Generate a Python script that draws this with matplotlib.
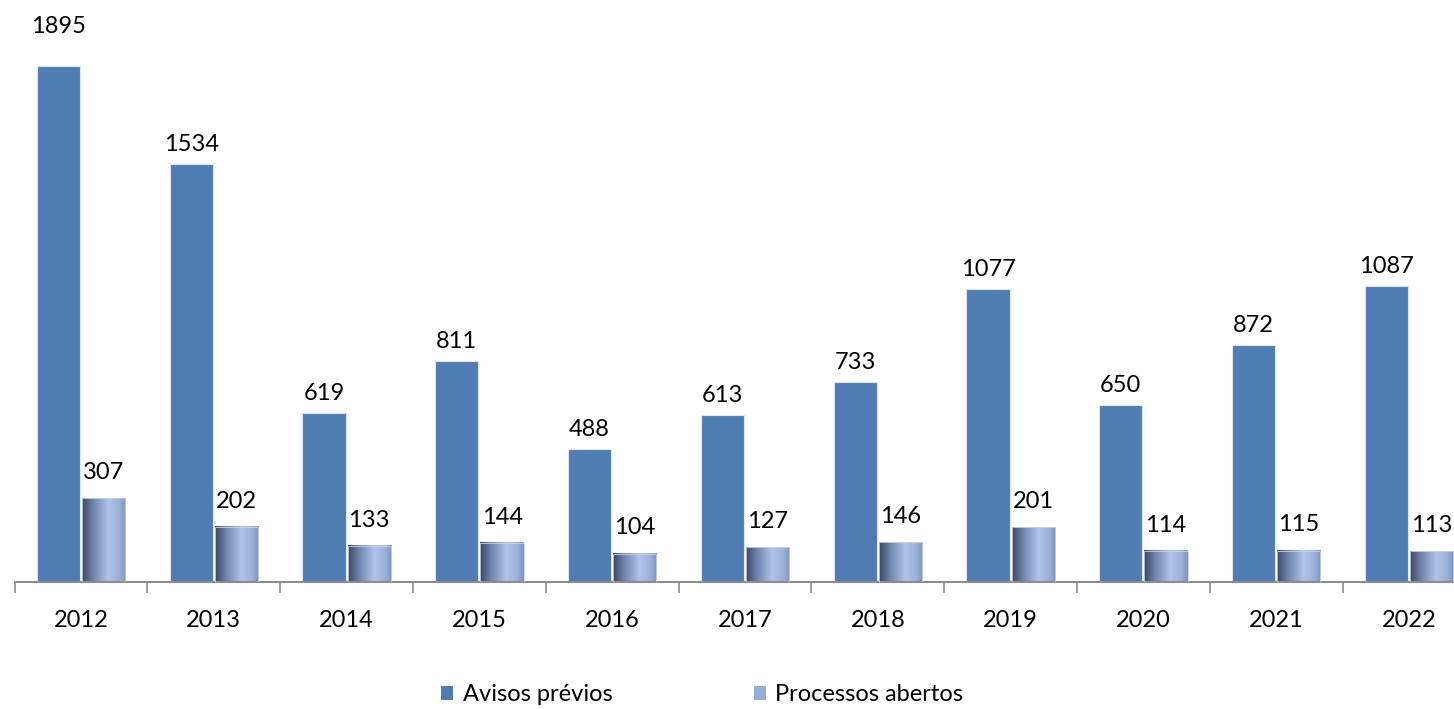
import matplotlib.pyplot as plt
import numpy as np
from matplotlib.colors import LinearSegmentedColormap
from matplotlib.patches import Patch

plt.rcParams["font.family"] = ["Lato", "DejaVu Sans"]

years = ["2012", "2013", "2014", "2015", "2016", "2017", "2018", "2019", "2020", "2021", "2022"]
avisos = [1895, 1534, 619, 811, 488, 613, 733, 1077, 650, 872, 1087]
processos = [307, 202, 133, 144, 104, 127, 146, 201, 114, 115, 113]

BLUE = "#4f7cb2"
LIGHT = "#95acd6"
grad_cmap = LinearSegmentedColormap.from_list(
    "bar_grad", [(0.0, "#3d4762"), (0.25, "#6f84ad"), (0.6, "#aec4ea"), (0.85, "#9bb1da"), (1.0, "#7f93b9")]
)

W, H, DPI = 1454, 709, 100
FS = 17
fig = plt.figure(figsize=(W / DPI, H / DPI), dpi=DPI)
left_px, bottom_px = 14.6, 582
ax = fig.add_axes([left_px / W, (H - bottom_px) / H, (W - left_px) / W, bottom_px / H])

cat_w = 132.8
x = np.arange(len(years))
xlim = (-0.5, -0.5 + (W - left_px) / cat_w)
ymax = 1895 * bottom_px / 516

bw = 0.325
gap = 0.008
grad = np.linspace(0, 1, 256).reshape(1, -1)
for i in x:
    ax.bar(i - gap - bw / 2, avisos[i], width=bw, color=BLUE, edgecolor="#dfe6f0", linewidth=0.8, zorder=2)
    x0 = i + gap
    ax.imshow(grad, cmap=grad_cmap, extent=(x0, x0 + bw, 0, processos[i]), aspect="auto", zorder=2,
              interpolation="bilinear")
    ax.add_patch(plt.Rectangle((x0, 0), bw, processos[i], fill=False, edgecolor="#c9d3e6", linewidth=0.6, zorder=3))
    off_a = 21 if avisos[i] == max(avisos) else 6.5
    ax.annotate(str(avisos[i]), (i - gap - bw / 2, avisos[i]), xytext=(0, off_a), textcoords="offset points",
                ha="center", va="bottom", fontsize=FS)
    ax.annotate(str(processos[i]), (x0 + bw / 2, processos[i]), xytext=(0, 11), textcoords="offset points",
                ha="center", va="bottom", fontsize=FS)

for s in ["top", "right", "left"]:
    ax.spines[s].set_visible(False)
ax.spines["bottom"].set_color("#8c8c8c")
ax.spines["bottom"].set_linewidth(1.5)
ax.set_yticks([])
ax.set_xticks(np.arange(-0.5, len(years) + 0.5, 1.0))
ax.set_xticklabels([])
ax.tick_params(axis="x", length=8, width=1.2, color="#8c8c8c", direction="out")
ax.set_xticks(x, minor=True)
ax.set_xticklabels(years, minor=True, fontsize=FS)
ax.tick_params(axis="x", which="minor", length=0, pad=20)
ax.set_xlim(*xlim)
ax.set_ylim(0, ymax)

handles = [Patch(facecolor=BLUE), Patch(facecolor=LIGHT)]
fig.legend(handles, ["Avisos prévios", "Processos abertos"], loc="center", bbox_to_anchor=(0.483, 0.02),
           ncol=2, frameon=False, fontsize=FS, handlelength=0.5, handleheight=0.5, handletextpad=0.4,
           columnspacing=6.0)

fig.savefig("out.png", dpi=DPI)
